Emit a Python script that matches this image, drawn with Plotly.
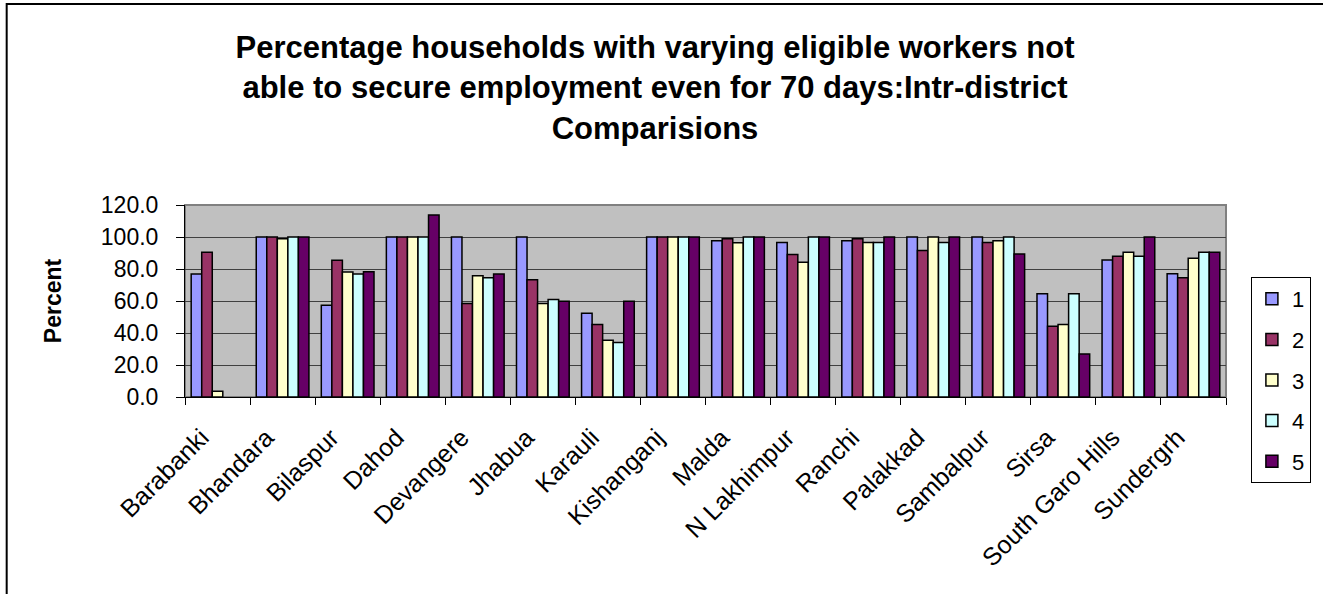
import plotly.graph_objects as go

districts = ["Barabanki", "Bhandara", "Bilaspur", "Dahod", "Devangere", "Jhabua", "Karauli",
             "Kishanganj", "Malda", "N Lakhimpur", "Ranchi", "Palakkad", "Sambalpur", "Sirsa",
             "South Garo Hills", "Sundergrh"]

s1 = [76.8, 100.0, 57.3, 100.0, 100.0, 100.0, 52.4, 100.0, 97.7, 96.6, 97.7, 100.0, 100.0, 64.6, 85.7, 77.0]
s2 = [90.5, 100.0, 85.5, 100.0, 58.5, 73.3, 45.3, 100.0, 98.9, 89.0, 98.9, 91.6, 96.6, 44.2, 88.0, 74.5]
s3 = [3.6, 98.9, 78.1, 100.0, 75.8, 58.5, 35.4, 100.0, 96.4, 84.2, 96.6, 100.0, 97.7, 45.3, 90.5, 86.7]
s4 = [None, 100.0, 76.8, 100.0, 74.5, 61.0, 34.1, 100.0, 100.0, 100.0, 96.6, 96.6, 100.0, 64.6, 88.0, 90.5]
s5 = [None, 100.0, 78.3, 113.7, 76.8, 59.8, 59.8, 100.0, 100.0, 100.0, 100.0, 100.0, 89.3, 26.9, 100.0, 90.5]

series_names = ["1", "2", "3", "4", "5"]
series_vals = [s1, s2, s3, s4, s5]
colors = ["#9999FF", "#993366", "#FFFFCC", "#CCFFFF", "#660066"]

title_text = ("Percentage households with varying eligible workers not<br>"
              "able to secure employment even for 70 days:Intr-district<br>"
              "Comparisions")

FONT = "Liberation Sans, Arial, sans-serif"

fig = go.Figure()
for name, vals, col in zip(series_names, series_vals, colors):
    fig.add_trace(go.Bar(
        x=districts, y=vals, name=name, legendgroup=name,
        marker=dict(color=col, line=dict(color="black", width=1.5)),
    ))

# plot area px: x 185..1230, y 205..397
L, R, T, B = 185, 1230, 205, 397
W, H = 1323, 594
pw, ph = R - L, B - T

def px_x(x):
    return (x - L) / pw

def px_y(y):
    return (B - y) / ph

fig.update_layout(
    width=W, height=H,
    margin=dict(l=L, r=W - R, t=T, b=H - B, pad=0),
    paper_bgcolor="white",
    plot_bgcolor="#C0C0C0",
    barmode="group",
    bargap=0.19,
    bargroupgap=0.0,
    font=dict(family=FONT, color="black"),
    title=dict(text="<b>" + title_text + "</b>", font=dict(size=31, family=FONT, color="black"),
               x=655 / W, xanchor="center", xref="container",
               y=1 - 58 / H, yanchor="top", yref="container"),
    showlegend=True,
    legend=dict(x=px_x(1255), y=px_y(277), xanchor="left", yanchor="top",
                bordercolor="black", borderwidth=1, bgcolor="white",
                font=dict(size=22, family=FONT), tracegroupgap=9,
                itemwidth=30, maxheight=400),
    xaxis=dict(
        type="category", tickson="boundaries", ticks="outside", ticklen=7,
        tickcolor="black", tickangle=-45, tickfont=dict(size=25, family=FONT),
        ticklabelstandoff=15, ticklabelshift=-16,
        showline=True, linecolor="black", linewidth=1, showgrid=False,
    ),
    yaxis=dict(
        range=[0, 120], dtick=20, tickformat=".1f", ticks="outside", ticklen=8,
        tickcolor="black", tickfont=dict(size=23, family=FONT), ticklabelstandoff=13,
        showline=True, linecolor="black", linewidth=1,
        showgrid=True, gridcolor="#404040", gridwidth=1, zeroline=False,
        title=dict(text="<b>Percent</b>", font=dict(size=23, family=FONT), standoff=32),
    ),
    shapes=[
        dict(type="rect", xref="paper", yref="paper", x0=0, x1=1, y0=0, y1=1,
             line=dict(color="#808080", width=2), layer="below"),
        dict(type="rect", xref="paper", yref="paper", x0=px_x(1300), x1=px_x(1330),
             y0=px_y(250), y1=px_y(6), fillcolor="white", line=dict(width=0), layer="above"),
        dict(type="rect", xref="paper", yref="paper", x0=px_x(6), x1=px_x(1400),
             y0=px_y(700), y1=px_y(4), line=dict(color="black", width=2)),
    ],
)

fig.write_html("out.html", config={"displayModeBar": False})
